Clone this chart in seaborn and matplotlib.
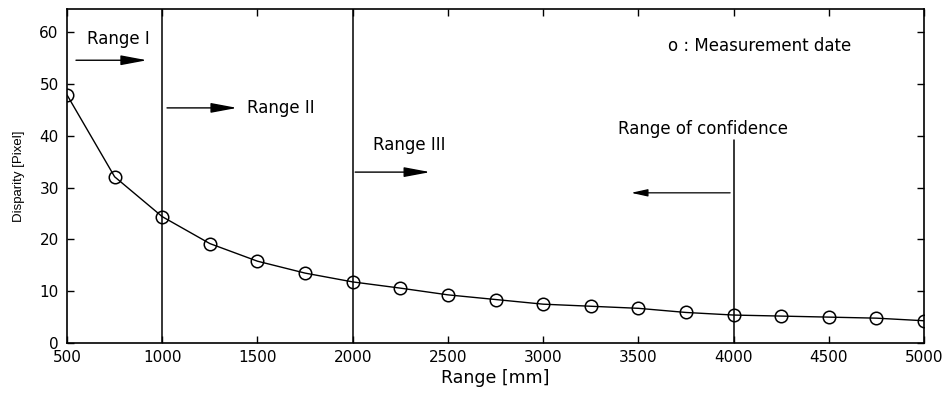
import matplotlib
matplotlib.use("Agg")
import matplotlib.pyplot as plt
import seaborn as sns
import pandas as pd

# measured disparity vs. range
range_mm = [500, 750, 1000, 1250, 1500, 1750, 2000, 2250, 2500, 2750,
            3000, 3250, 3500, 3750, 4000, 4250, 4500, 4750, 5000]
disparity_px = [47.9, 32.1, 24.4, 19.2, 15.8, 13.5, 11.8, 10.6, 9.3, 8.4,
                7.5, 7.1, 6.7, 5.9, 5.4, 5.2, 5.0, 4.8, 4.3]

x_ticks = [500, 1000, 1500, 2000, 2500, 3000, 3500, 4000, 4500, 5000]
y_ticks = [0, 10, 20, 30, 40, 50, 60]

sns.set_style("ticks")
plt.rcParams['font.family'] = ['DejaVu Sans']
plt.rcParams['text.color'] = 'black'
plt.rcParams['axes.labelcolor'] = 'black'
plt.rcParams['xtick.direction'] = 'in'
plt.rcParams['ytick.direction'] = 'in'

df = pd.DataFrame({'range': range_mm, 'disparity': disparity_px})

fig = plt.figure(figsize=(9.48, 3.94), dpi=100)
ax = fig.add_axes([0.0707, 0.1294, 0.904, 0.8465])

sns.lineplot(data=df, x='range', y='disparity', ax=ax, color='black', lw=1.0,
             marker='o', markersize=9, markerfacecolor='none',
             markeredgecolor='black', markeredgewidth=1.1)

# range boundaries
ax.axvline(1000, color='black', lw=1.1)
ax.axvline(2000, color='black', lw=1.1)
ax.plot([4000, 4000], [0, 39.2], color='black', lw=1.1)

ax.set_xlim(500, 5000)
ax.set_ylim(0, 64.4)
ax.set_xticks(x_ticks)
ax.set_yticks(y_ticks)
ax.tick_params(axis='both', which='both', top=True, right=True,
               length=5, width=1, labelsize=11, colors='black')
ax.tick_params(axis='x', pad=5)
ax.tick_params(axis='y', pad=6)
for s in ax.spines.values():
    s.set_linewidth(1.2)
    s.set_color('black')

ax.set_xlabel('Range [mm]', fontsize=12.5, labelpad=3)
ax.set_ylabel('Disparity [Pixel]', family='Liberation Sans', fontsize=9.5,
              labelpad=10)

# annotations
fs = 12
ax.text(605, 58.7, 'Range I', fontsize=fs, va='center', ha='left')
ax.text(1445, 45.4, 'Range II', fontsize=fs, va='center', ha='left')
ax.text(2107, 38.2, 'Range III', fontsize=fs, va='center', ha='left')
ax.text(3394, 41.4, 'Range of confidence', fontsize=fs, va='center', ha='left')
ax.text(3657, 57.3, 'o : Measurement date', fontsize=fs, va='center', ha='left')

big = dict(arrowstyle='-|>,head_length=1.6,head_width=0.3', color='black',
           lw=1.0, mutation_scale=10, shrinkA=0, shrinkB=0)
small = dict(arrowstyle='-|>,head_length=1.0,head_width=0.22', color='black',
             lw=0.9, mutation_scale=10, shrinkA=0, shrinkB=0)
ax.annotate('', xy=(920, 54.6), xytext=(547, 54.6), arrowprops=big)
ax.annotate('', xy=(1393, 45.4), xytext=(1025, 45.4), arrowprops=big)
ax.annotate('', xy=(2407, 33.0), xytext=(2013, 33.0), arrowprops=big)
ax.annotate('', xy=(3462, 29.0), xytext=(3982, 29.0), arrowprops=small)

fig.savefig('out.png', dpi=100)
